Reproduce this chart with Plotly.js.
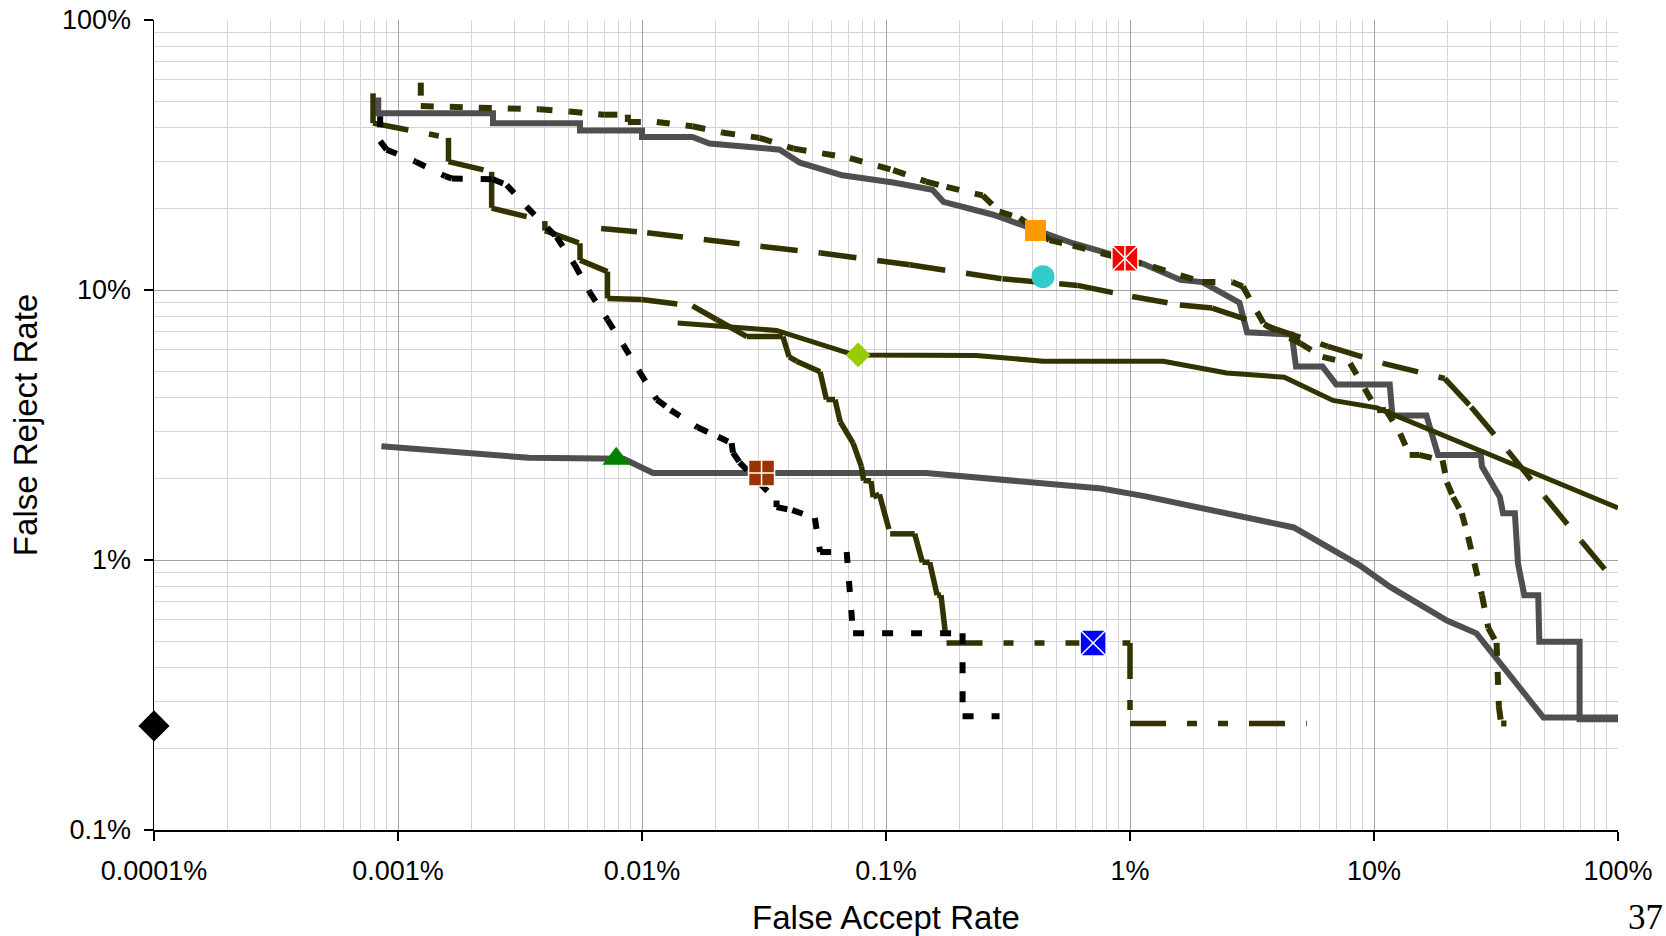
<!DOCTYPE html>
<html>
<head>
<meta charset="utf-8">
<script src="https://cdn.plot.ly/plotly-3.0.1.min.js"></script>
<style>
html,body{margin:0;padding:0;background:#fff;}
#chart{width:1666px;height:936px;}
</style>
</head>
<body>
<div id="chart"></div>
<script>
// ---------- axis tick labels ----------
const xTickVals = [0.0001, 0.001, 0.01, 0.1, 1, 10, 100];
const xTickText = ['0.0001%', '0.001%', '0.01%', '0.1%', '1%', '10%', '100%'];
const yTickVals = [0.1, 1, 10, 100];
const yTickText = ['0.1%', '1%', '10%', '100%'];

// ---------- series (FAR %, FRR %) ----------
// upper gray step curve
const upperGrayFAR = [0.00083,0.00083,0.00245,0.00245,0.00557,0.00557,0.0100,0.0100,0.0161,0.0189,0.0367,0.0444,0.0662,0.107,0.155,0.172,0.275,0.375,0.583,0.853,1.13,1.61,1.98,2.81,3.02,4.60,4.79,6.15,7.0,11.6,11.9,16.4,18.3,27.4,27.7,32.8,33.8,37.8,38.9,41.3,47.1,47.6,69.6,69.6,100];
const upperGrayFRR = [51.6,45.1,45.1,41.5,41.5,39.0,39.0,36.9,36.9,34.9,33.1,29.6,26.6,25.0,23.5,21.2,19.0,17.2,14.9,13.5,12.5,10.9,10.7,8.97,6.97,6.84,5.21,5.21,4.47,4.47,3.43,3.43,2.45,2.45,2.22,1.71,1.49,1.49,0.972,0.741,0.741,0.498,0.498,0.257,0.257];

// upper olive dotted curve
const dottedFAR = [0.00124,0.00124,0.0038,0.00504,0.00701,0.00875,0.00875,0.0115,0.0161,0.0213,0.0303,0.0418,0.0711,0.107,0.146,0.177,0.249,0.292,0.353,0.468,0.583,1.24,1.98,2.62,2.90,3.54,4.98,6.15,7.98,10.3,11.2,12.8,14.0,15.3,19.1,19.9,21.1,22.9,24.3,25.8,27.7,29.4,31.8,32.5,33.2,34.9];
const dottedFRR = [58.6,48.0,46.7,45.8,44.6,44.6,41.9,41.9,40.4,38.3,36.6,33.4,30.8,27.8,25.2,24.1,22.4,19.5,18.5,15.3,14.6,12.2,10.7,10.7,10.3,7.48,6.35,5.65,5.35,3.59,3.59,2.94,2.45,2.45,2.34,1.94,1.71,1.49,1.22,0.972,0.741,0.560,0.493,0.286,0.248,0.248];

// lower gray curve
const lowerGrayFAR = [0.000855,0.00344,0.0084,0.0111,0.146,0.292,0.764,1.16,3.96,4.69,8.73,11.6,19.9,26.3,49.5,100];
const lowerGrayFRR = [2.64,2.39,2.37,2.10,2.10,1.99,1.84,1.72,1.36,1.32,0.955,0.797,0.597,0.535,0.261,0.261];

// olive long-dash curve
const longDashFAR = [0.0068,0.0105,0.031,0.054,0.125,0.30,0.61,1.02,1.60,2.17,6.47,10.9,19.5,25.0,35.6,50.0,71.0,100];
const longDashFRR = [16.9,16.3,14.5,13.7,12.4,11.0,10.4,9.46,8.80,8.57,6.18,5.35,4.70,3.69,2.52,1.72,1.17,0.806];

// olive solid curve
const solidFAR = [0.014,0.0356,0.0711,0.077,0.234,0.44,1.37,2.49,4.29,6.79,10.3,100];
const solidFRR = [7.55,7.08,5.81,5.75,5.72,5.45,5.45,4.93,4.75,3.90,3.66,1.56];

// olive dash-dot-dot step curve
const dashDotFAR = [0.00079,0.00079,0.00161,0.00161,0.00242,0.00242,0.0040,0.0040,0.00557,0.00557,0.00722,0.00722,0.00996,0.0161,0.0203,0.0269,0.0378,0.0401,0.0430,0.0537,0.0570,0.0618,0.0649,0.0733,0.0793,0.0809,0.0868,0.0886,0.094,0.104,0.131,0.141,0.151,0.162,0.168,0.177,1.0,1.0,5.30];
const dashDotFRR = [53.5,41.5,36.6,29.9,27.4,20.1,18.0,16.6,14.9,12.9,11.7,9.31,9.23,8.73,7.76,6.72,6.72,5.65,5.45,4.98,3.93,3.93,3.25,2.71,2.22,1.97,1.96,1.71,1.75,1.25,1.25,0.981,0.981,0.741,0.741,0.493,0.493,0.248,0.248];

// black dotted curve
const blackFAR = [0.000845,0.000845,0.000898,0.00118,0.00156,0.00166,0.00245,0.00279,0.00337,0.00447,0.0053,0.0061,0.00722,0.0084,0.00977,0.0115,0.0131,0.0169,0.0205,0.0233,0.0236,0.0251,0.0356,0.0356,0.0413,0.0511,0.0537,0.069,0.0733,0.206,0.206,0.292];
const blackFRR = [44.0,35.6,33.1,29.9,26.4,25.9,25.7,24.5,20.3,15.7,12.4,9.82,7.76,6.24,4.98,3.93,3.59,3.10,2.86,2.71,2.50,2.30,1.66,1.57,1.53,1.43,1.07,1.07,0.535,0.535,0.264,0.264];

// single operating points
const blackDiamond = [0.0001, 0.243];
const greenTriangle = [0.00784, 2.37];
const brownSquare = [0.0309, 2.10];
const limeDiamond = [0.0769, 5.75];
const orangeSquare = [0.410, 16.6];
const cyanCircle = [0.44, 11.2];
const redSquare = [0.953, 13.1];
const blueSquare = [0.706, 0.493];

// ---------- styling ----------
const OLIVE = '#333300';
const GRAY = '#4f4f4f';

// dash pattern restarts at every vertex (as in the source chart)
function segments(xs, ys, color, width, dash) {
  const out = [];
  for (let i = 0; i < xs.length - 1; i++) {
    out.push({x: [xs[i], xs[i + 1]], y: [ys[i], ys[i + 1]], type: 'scatter', mode: 'lines',
      line: {color: color, width: width, dash: dash}, hoverinfo: 'skip', showlegend: false});
  }
  return out;
}
function line(xs, ys, color, width) {
  return {x: xs, y: ys, type: 'scatter', mode: 'lines', line: {color: color, width: width},
    hoverinfo: 'skip', showlegend: false};
}
function point(p, symbol, size, color, lineColor, lineWidth) {
  return {x: [p[0]], y: [p[1]], type: 'scatter', mode: 'markers', hoverinfo: 'skip', showlegend: false,
    cliponaxis: false,
    marker: {symbol: symbol, size: size, color: color, line: {color: lineColor || color, width: lineWidth || 0}}};
}

let traces = [];
traces.push(line(lowerGrayFAR, lowerGrayFRR, GRAY, 6));
traces.push(line(upperGrayFAR, upperGrayFRR, GRAY, 6));
traces = traces.concat(segments(longDashFAR, longDashFRR, OLIVE, 5.5, '36px,21px'));
traces.push(line(solidFAR, solidFRR, OLIVE, 5));
traces = traces.concat(segments(dottedFAR, dottedFRR, OLIVE, 6, '13px,16px'));
traces = traces.concat(segments(dashDotFAR, dashDotFRR, OLIVE, 5.5, '36px,21px,10px,21px,10px,21px'));
traces = traces.concat(segments(blackFAR, blackFRR, '#000000', 6, '11px,18px'));

traces.push(point(blackDiamond, 'diamond', 24, '#000000'));
traces.push(point(greenTriangle, 'triangle-up', 24, '#008000'));
traces.push(point(brownSquare, 'square-cross', 26, '#993300', '#ffffff', 1.5));
traces.push(point(limeDiamond, 'diamond', 19, '#99cc00'));
traces.push(point(orangeSquare, 'square', 21, '#ff9900'));
traces.push(point(cyanCircle, 'circle', 23, '#33cccc'));
traces.push(point(redSquare, 'square-x', 26, '#ff0000', '#ffffff', 1.5));
traces.push(point(redSquare, 'line-ns-open', 18, '#ffffff', '#ffffff', 1.5));
traces.push(point(blueSquare, 'square-x', 26, '#0000ff', '#ffffff', 1.5));

// minor grid positions (2..9 within each decade)
function minorVals(d0, d1) {
  const v = [];
  for (let d = d0; d < d1; d++) for (let k = 2; k <= 9; k++) v.push(k * Math.pow(10, d));
  return v;
}

const FONT = 'Liberation Sans, Arial, sans-serif';
const layout = {
  width: 1666, height: 936,
  margin: {l: 154, r: 48, t: 20, b: 106},
  paper_bgcolor: '#ffffff', plot_bgcolor: '#ffffff',
  font: {family: FONT, color: '#000000', size: 27},
  showlegend: false,
  xaxis: {
    type: 'log', range: [-4, 2],
    tickmode: 'array', tickvals: xTickVals, ticktext: xTickText,
    ticks: 'outside', ticklen: 9, tickwidth: 1.5, tickcolor: '#000000',
    ticklabelstandoff: 7,
    showline: true, linecolor: '#000000', linewidth: 1.5,
    showgrid: true, gridcolor: '#a3a3a3', gridwidth: 1,
    minor: {tickmode: 'array', tickvals: minorVals(-4, 2), showgrid: true, gridcolor: '#d4d4d4', gridwidth: 1, ticks: ''},
    tickfont: {family: FONT, size: 27, color: '#000000'},
    title: {text: 'False Accept Rate', font: {family: FONT, size: 33, color: '#000000'}, standoff: 21},
    zeroline: false, fixedrange: true
  },
  yaxis: {
    type: 'log', range: [-1, 2],
    tickmode: 'array', tickvals: yTickVals, ticktext: yTickText,
    ticks: 'outside', ticklen: 9, tickwidth: 1.5, tickcolor: '#000000',
    ticklabelstandoff: 7,
    showline: true, linecolor: '#000000', linewidth: 1.5,
    showgrid: true, gridcolor: '#a3a3a3', gridwidth: 1,
    minor: {tickmode: 'array', tickvals: minorVals(-1, 2), showgrid: true, gridcolor: '#d4d4d4', gridwidth: 1, ticks: ''},
    tickfont: {family: FONT, size: 27, color: '#000000'},
    title: {text: 'False Reject Rate', font: {family: FONT, size: 33, color: '#000000'}, standoff: 14},
    zeroline: false, fixedrange: true
  },
  annotations: [{
    text: '37', xref: 'paper', yref: 'paper', x: 1.0188, y: -0.1086,
    xanchor: 'center', yanchor: 'middle', showarrow: false,
    font: {family: 'Liberation Serif, Times New Roman, serif', size: 35, color: '#000000'}
  }]
};

Plotly.newPlot('chart', traces, layout, {displayModeBar: false, staticPlot: true});
</script>
</body>
</html>
